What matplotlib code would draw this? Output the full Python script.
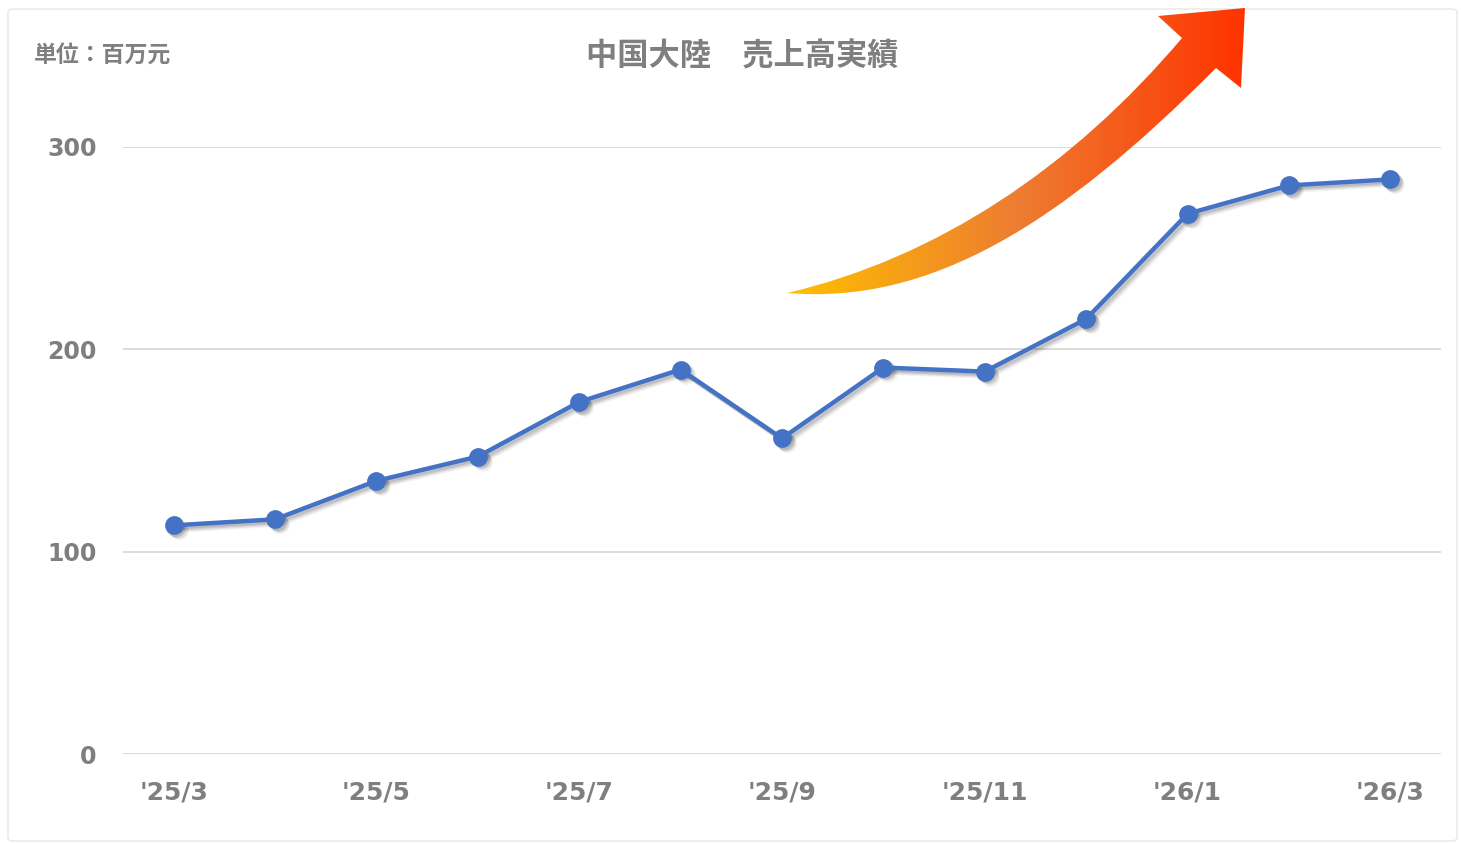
import numpy as np
import matplotlib
matplotlib.use("Agg")
import matplotlib.pyplot as plt
import matplotlib.transforms as mtransforms
from matplotlib.path import Path
from matplotlib.patches import PathPatch, FancyBboxPatch
from matplotlib.colors import LinearSegmentedColormap

plt.rcParams['font.family'] = ['DejaVu Sans', 'Noto Sans CJK JP']

# monthly sales (million yuan)
months = ["'25/3", "'25/4", "'25/5", "'25/6", "'25/7", "'25/8", "'25/9",
          "'25/10", "'25/11", "'25/12", "'26/1", "'26/2", "'26/3"]
sales = [113, 116, 135, 147, 174, 190, 156, 191, 189, 215, 267, 281, 284]
y_ticks = [0, 100, 200, 300]

title = "中国大陸　売上高実績"
unit_label = "単位：百万元"

W, H = 1461, 844
fig = plt.figure(figsize=(W / 100, H / 100), dpi=100)
fig.patch.set_facecolor("white")

# light frame around the chart
frame = FancyBboxPatch((8 / W, 3 / H), (W - 12) / W, (H - 12) / H,
                       boxstyle="round,pad=0,rounding_size=0.004",
                       transform=fig.transFigure, facecolor="white",
                       edgecolor="#EBEBEB", linewidth=1.2, zorder=-1)
fig.patches.append(frame)

ax = fig.add_axes([123 / W, (H - 754) / H, (1441 - 123) / W, (754 - 147) / H])
ax.set_facecolor("none")
x = np.arange(len(months))

# soft drop shadow: a few faint gray copies shifted down-right
for d, a in [(1.2, 0.10), (2.0, 0.09), (2.8, 0.07), (3.6, 0.05)]:
    tr = mtransforms.offset_copy(ax.transData, fig=fig, x=d, y=-d, units="points")
    ax.plot(x, sales, color="#000000", alpha=a, lw=3.4, marker="o", ms=13.5,
            mew=0, transform=tr, zorder=2, clip_on=False)

ax.plot(x, sales, color="#4472C4", lw=3.2, marker="o", ms=13.5, mew=0,
        zorder=3, clip_on=False)

ax.set_xlim(-0.5, len(months) - 0.5)
ax.set_ylim(0, 300)
ax.set_yticks(y_ticks)
ax.set_xticks(x[::2])
ax.set_xticklabels(months[::2])
ax.tick_params(length=0, labelcolor="#7F7F7F")
ax.tick_params(axis="y", pad=19, labelsize=17)
ax.tick_params(axis="x", pad=19, labelsize=18)
for lbl in ax.get_xticklabels() + ax.get_yticklabels():
    lbl.set_fontweight("bold")
ax.grid(axis="y", color="#D9D9D9", lw=1.3)
ax.set_axisbelow(True)
for s in ax.spines.values():
    s.set_visible(False)

fig.text(742 / W, 1 - 57 / H, title, ha="center", va="center", fontsize=22.5,
         fontweight="bold", color="#7F7F7F", family=["Noto Sans CJK JP", "DejaVu Sans"])
fig.text(34 / W, 1 - 56 / H, unit_label, ha="left", va="center", fontsize=16.5,
         fontweight="bold", color="#7F7F7F", family=["Noto Sans CJK JP", "DejaVu Sans"])

# curved gradient arrow (overlay in pixel coordinates)
ov = fig.add_axes([0, 0, 1, 1], zorder=5)
ov.set_facecolor("none")
ov.axis("off")
verts = [(787, 293), (930, 305), (1060, 225), (1216, 68),
         (1241, 88), (1245, 8), (1158, 16), (1182, 38),
         (1072, 168), (937, 258), (787, 293), (787, 293)]
codes = [Path.MOVETO, Path.CURVE4, Path.CURVE4, Path.CURVE4,
         Path.LINETO, Path.LINETO, Path.LINETO, Path.LINETO,
         Path.CURVE4, Path.CURVE4, Path.CURVE4, Path.CLOSEPOLY]
arrow = PathPatch(Path(verts, codes), facecolor="none", edgecolor="none")
ov.add_patch(arrow)
cmap = LinearSegmentedColormap.from_list("arr", ["#FFC000", "#ED7D31", "#FF3300"])
grad = np.linspace(0, 1, 256).reshape(1, -1)
im = ov.imshow(grad, cmap=cmap, extent=[787, 1246, 300, 5], aspect="auto")
im.set_clip_path(arrow)
ov.set_xlim(0, W)
ov.set_ylim(H, 0)

fig.savefig("out.png", dpi=100)
